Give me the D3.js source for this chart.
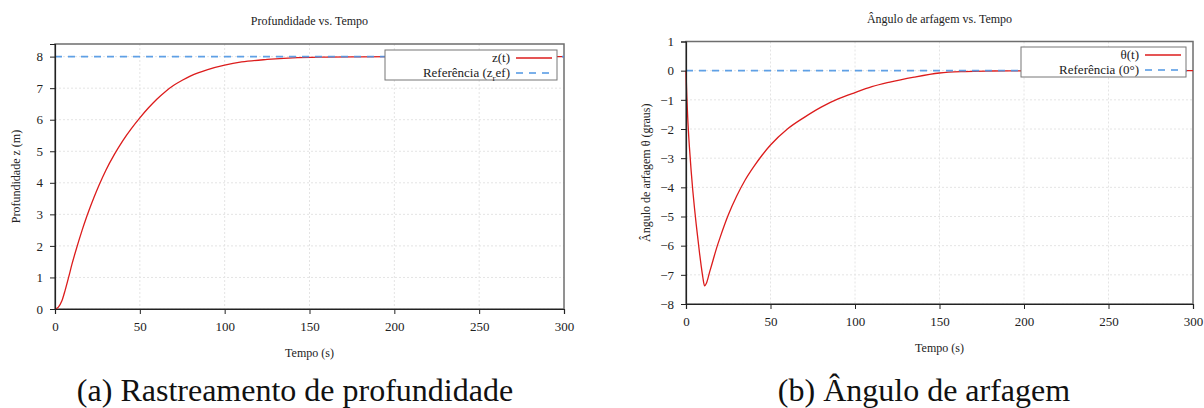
<!DOCTYPE html>
<html>
<head>
<meta charset="utf-8">
<script src="https://cdn.jsdelivr.net/npm/d3@7"></script>
<style>
  body { margin: 0; background: #fff; }
  svg text { fill: #222; }
  .grid line { stroke: #e4e4e4; stroke-dasharray: 2,2; }
  .axis path, .axis line { stroke: #222; }
</style>
</head>
<body>
<div id="fig"></div>
<script>
// Data
var xTicks = [0, 50, 100, 150, 200, 250, 300];

// (a) depth
var depthTime = [0, 2, 4, 6, 8, 10, 12, 14, 16, 18, 20, 23, 26, 30, 35, 40, 45, 50, 55, 60, 65, 70, 75, 80, 90, 100, 110, 125, 140, 160, 180, 200, 250, 300];
var depthValue = [0, 0.06, 0.25, 0.6, 1.0, 1.42, 1.8, 2.16, 2.5, 2.82, 3.12, 3.54, 3.93, 4.4, 4.9, 5.34, 5.72, 6.06, 6.37, 6.65, 6.89, 7.09, 7.25, 7.39, 7.59, 7.73, 7.83, 7.91, 7.96, 7.985, 7.995, 8, 8, 8];
var depthRef = 8;
var depthTicks = [0, 1, 2, 3, 4, 5, 6, 7, 8];

// (b) pitch angle
var pitchTime = [0, 0.5, 1, 2, 3, 4, 5, 6, 7, 8, 9, 10, 11, 12, 14, 16, 18, 20, 25, 30, 35, 40, 45, 50, 60, 70, 80, 90, 100, 110, 120, 135, 150, 165, 180, 200, 225, 250, 300];
var pitchValue = [0, -0.9, -1.6, -2.6, -3.4, -4.1, -4.7, -5.25, -5.75, -6.25, -6.7, -7.1, -7.38, -7.3, -6.9, -6.5, -6.1, -5.75, -4.95, -4.3, -3.75, -3.3, -2.9, -2.55, -2.0, -1.6, -1.25, -0.97, -0.75, -0.55, -0.4, -0.22, -0.08, -0.03, -0.012, -0.004, 0, 0, 0];
var pitchRef = 0;
var pitchTicks = [1, 0, -1, -2, -3, -4, -5, -6, -7, -8];

var serif = "Liberation Serif";

var svg = d3.select("#fig")
  .append("svg")
  .attr("width", 1204)
  .attr("height", 408)
  .style("font-family", serif);

var red = "#dc1c1c";
var blue = "#4f97e3";

function drawChart(o) {
  var x = d3.scaleLinear().domain([0, 300]).range([o.left, o.right]);
  var y = d3.scaleLinear().domain(o.yDomain).range([o.bottom, o.top]);
  var g = svg.append("g");

  // grid
  g.append("g").attr("class", "grid")
    .selectAll("line").data(xTicks.slice(1, -1)).enter().append("line")
    .attr("x1", d => x(d)).attr("x2", d => x(d))
    .attr("y1", o.top).attr("y2", o.bottom);
  g.append("g").attr("class", "grid")
    .selectAll("line").data(o.yTicks).enter().append("line")
    .attr("x1", o.left).attr("x2", o.right)
    .attr("y1", d => y(d)).attr("y2", d => y(d));

  // frame (top/right in grey)
  g.append("rect")
    .attr("x", o.left).attr("y", o.top)
    .attr("width", o.right - o.left).attr("height", o.bottom - o.top)
    .attr("fill", "none").attr("stroke", "#6e6e6e").attr("stroke-width", 1.5);

  var line = d3.line().curve(d3.curveMonotoneX).x(d => x(d[0])).y(d => y(d[1]));
  var pts = o.time.map((t, i) => [t, o.values[i]]);

  g.append("path")
    .attr("d", line(pts))
    .attr("fill", "none").attr("stroke", red).attr("stroke-width", 1.3);
  g.append("path")
    .attr("d", line([[0, o.ref], [300, o.ref]]))
    .attr("fill", "none").attr("stroke", blue).attr("stroke-width", 1.6)
    .attr("stroke-dasharray", "7,6").attr("stroke-opacity", 0.9);

  // axes
  var ax = g.append("g").attr("class", "axis")
    .attr("transform", `translate(0, ${o.bottom})`)
    .call(d3.axisBottom(x).tickValues(xTicks).tickSize(5).tickPadding(8).tickFormat(d3.format("d")));
  var ay = g.append("g").attr("class", "axis")
    .attr("transform", `translate(${o.left}, 0)`)
    .call(d3.axisLeft(y).tickValues(o.yTicks).tickSize(5).tickPadding(7).tickFormat(d3.format("d")));
  ax.attr("font-family", serif).attr("font-size", 13);
  ay.attr("font-family", serif).attr("font-size", 13);
  g.selectAll(".axis .domain").attr("stroke-width", 1.2);

  // title + axis labels
  var cx = (o.left + o.right) / 2;
  g.append("text").attr("x", cx).attr("y", o.titleY)
    .attr("text-anchor", "middle").attr("font-size", 12).text(o.title);
  g.append("text").attr("x", cx).attr("y", o.bottom + 48)
    .attr("text-anchor", "middle").attr("font-size", 12).text("Tempo (s)");
  g.append("text")
    .attr("transform", `translate(${o.yLabelX}, ${(o.top + o.bottom) / 2}) rotate(-90)`)
    .attr("text-anchor", "middle").attr("font-size", 12).text(o.yLabel);

  // legend
  var lg = g.append("g").attr("transform", `translate(${o.legend[0]}, ${o.legend[1]})`);
  lg.append("rect").attr("width", o.legend[2]).attr("height", 30)
    .attr("fill", "#fff").attr("stroke", "#777").attr("stroke-width", 1);
  var lx = o.legend[2] - 41;
  lg.append("line").attr("x1", lx).attr("x2", lx + 36).attr("y1", 8).attr("y2", 8)
    .attr("stroke", red).attr("stroke-width", 1.3);
  lg.append("line").attr("x1", lx).attr("x2", lx + 36).attr("y1", 23).attr("y2", 23)
    .attr("stroke", blue).attr("stroke-width", 1.6).attr("stroke-dasharray", "7,6");
  lg.append("text").attr("x", lx - 6).attr("y", 12).attr("text-anchor", "end")
    .attr("font-size", 13).text(o.seriesName);
  var t2 = lg.append("text").attr("x", lx - 6).attr("y", 27).attr("text-anchor", "end")
    .attr("font-size", 13);
  o.refName(t2);

  // caption
  svg.append("text").attr("x", o.capX).attr("y", 401)
    .attr("text-anchor", "middle").attr("font-size", 32).style("fill", "#111")
    .text(o.caption);
}

drawChart({
  left: 55, right: 564, top: 44, bottom: 309,
  yDomain: [0, 8.4], yTicks: depthTicks,
  time: depthTime, values: depthValue, ref: depthRef,
  title: "Profundidade vs. Tempo", titleY: 25,
  yLabel: "Profundidade z (m)", yLabelX: 20,
  legend: [385, 50, 172], seriesName: "z(t)",
  refName: function(t) {
    t.append("tspan").text("Referência (z");
    t.append("tspan").attr("dy", 4).attr("font-size", 9).text("r");
    t.append("tspan").attr("dy", -4).text("ef)");
  },
  caption: "(a) Rastreamento de profundidade", capX: 295
});

drawChart({
  left: 686, right: 1193, top: 41.5, bottom: 304,
  yDomain: [-8, 1], yTicks: pitchTicks,
  time: pitchTime, values: pitchValue, ref: pitchRef,
  title: "Ângulo de arfagem vs. Tempo", titleY: 23,
  yLabel: "Ângulo de arfagem θ (graus)", yLabelX: 650,
  legend: [1021, 47, 165], seriesName: "θ(t)",
  refName: function(t) { t.text("Referência (0°)"); },
  caption: "(b) Ângulo de arfagem", capX: 924
});
</script>
</body>
</html>
